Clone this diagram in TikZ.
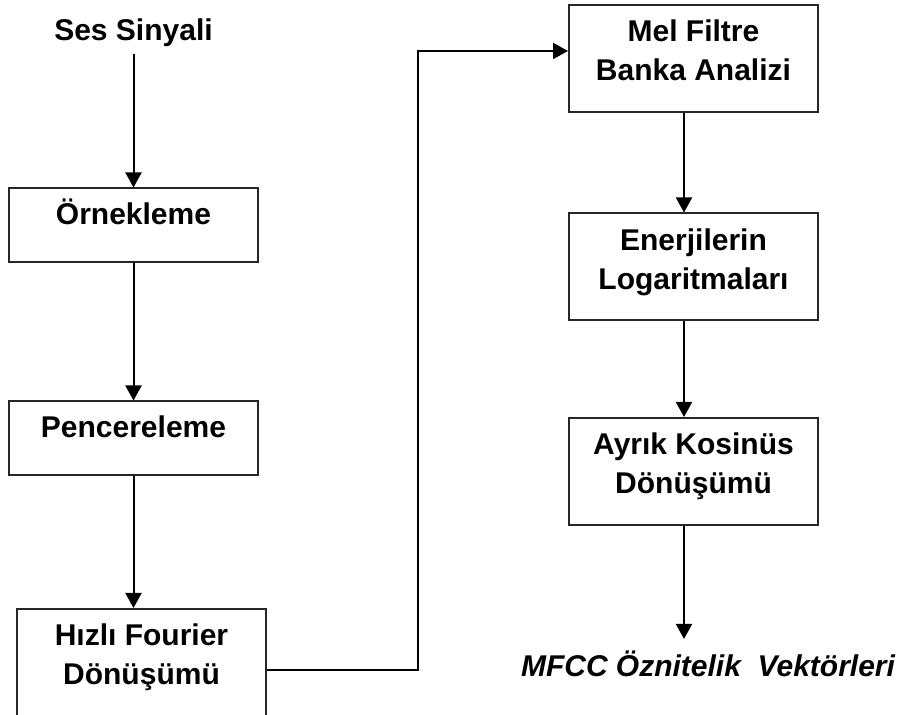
\documentclass[tikz,border=0pt]{standalone}
\usepackage{fontspec}
\setmainfont{Liberation Sans}
\usetikzlibrary{arrows.meta}
\newcommand{\twoline}[3][15.5pt]{\rule{0pt}{18.5pt}#2\\#3\rule[-#1]{0pt}{#1}}
\begin{document}
\begin{tikzpicture}[x=0.5pt,y=0.5pt,>={Triangle[length=7.5pt,width=8pt]},line width=1pt,proc/.style={rectangle, draw=black!85, line width=1pt, minimum width=124.5pt, inner sep=0pt, align=center, font=\bfseries\fontsize{15pt}{19.5pt}\selectfont},oneline/.style={proc, text height=18pt, text depth=19pt},lbl/.style={inner sep=0pt, font=\bfseries\fontsize{15pt}{19.5pt}\selectfont},]
                    \useasboundingbox (0,0) rectangle (899,715);
                    \node[lbl, anchor=base, text depth=6pt] (ses) at (133.5,674) {Ses Sinyali};
                    \node[oneline] (ornek) at (133.5,489.5) {Örnekleme};
                    \node[oneline, below of=ornek, node distance=106.5pt] (pencere) {Pencereleme};
                    \node[proc, below of=pencere, node distance=113.75pt, xshift=4pt] (hizli) {\twoline[19pt]{Hızlı Fourier}{Dönüşümü}};
                    \node[proc] (mel) at (693.5,656.5) {\twoline{Mel Filtre}{Banka Analizi}};
                    \node[proc, below of=mel, node distance=104.25pt] (ener) {\twoline{Enerjilerin}{Logaritmaları}};
                    \node[proc, below of=ener, node distance=102.25pt] (ayrik) {\twoline{Ayrık Kosinüs}{Dönüşümü}};
                    \node[lbl, anchor=base, text height=18.5pt, font=\bfseries\itshape\fontsize{15pt}{19.5pt}\selectfont] (mfcc) at (708,38) {MFCC Öznitelik~ Vektörleri};
                    \draw[->] (ses) -- (ornek);
                    \draw[->] (ornek) -- (pencere);
                    \draw[->] (pencere.south) -- (pencere.south |- hizli.north);
                    \draw[->] ([yshift=-2pt]hizli.east) -- ++(75.5pt,0) |- ([yshift=3.75pt]mel.west);
                    \draw[->] ([xshift=-4.75pt]mel.south) -- ([xshift=-4.75pt]ener.north);
                    \draw[->] ([xshift=-4.75pt]ener.south) -- ([xshift=-4.75pt]ayrik.north);
                    \draw[->] ([xshift=-4.75pt]ayrik.south) -- ([xshift=-4.75pt]ayrik.south |- mfcc.north);
                \end{tikzpicture}
\end{document}
